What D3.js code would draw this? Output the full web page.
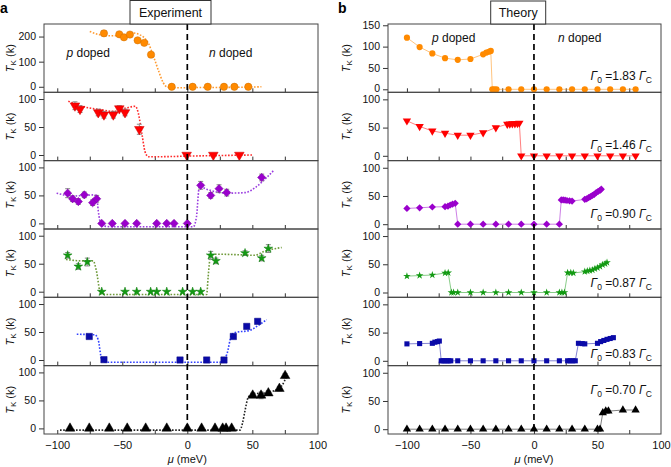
<!DOCTYPE html>
<html><head><meta charset="utf-8">
<script src="https://cdn.jsdelivr.net/npm/d3@7"></script>
<style>body{margin:0;background:#fff} svg{display:block;font-family:"Liberation Sans",Arial,Helvetica,sans-serif}</style>
</head><body><svg id="c" width="671" height="467"></svg>
<script>
// ---------------- DATA ----------------
// Experiment (panel a)
const exp1X = [-64.1,-52.3,-48.7,-44.1,-38.2,-33.1,-27.9,-12,4.1,15.7,28.2,36.2,46.9];
const exp1Y = [213,209,197,208,185,175,128,0,0,0,0,0,0];
const exp1E = [10,6,8,8,6,6,7,0,0,0,0,0,0];
const fit1X = [-75,-68,-60,-52,-45,-41,-37,-33,-30,-26,-22,-18.5,-15,-10,10,40,57];
const fit1Y = [220,208,203,204,210,214,208,195,174,121,62,16,-2,-4,-3,-2,0];

const exp2X = [-86.4,-82.5,-68.5,-64.1,-56.9,-52.3,-47.9,-36.9,-0.5,20,40];
const exp2Y = [88,82,76,72,72,83,76,46,0,0,0];
const exp2E = [7,6,6,6,6,5,6,9,0,0,0];
const fit2X = [-91.5,-82.5,-67,-57,-47,-40,-37.7,-35,-32.5,-30,-20,0,50.8];
const fit2Y = [96,88,81,78,84,87,75,39,6,-3,-3,-2,0];

const exp3X = [-92,-88.2,-83.8,-79.2,-72.8,-69.7,-65.8,-57.7,-47.9,-38.9,-23.5,-15.8,-10.2,0,10.3,18,24.4,30.3,57.2];
const exp3Y = [54,44,39,51,37,44,0,0,0,0,0,0,0,0,68,50,62,55,82];
const exp3E = [8,5,5,5,5,6,0,0,0,0,0,0,0,0,7,5,7,6,6];
const fit3X = [-100.5,-88,-78,-72,-69.7,-68.5,-65.8,-58,4.6,7,9.3,14.9,30.3,44.4,53.4,61,66.2];
const fit3Y = [54,49,50,51,49,23,-4,-6,-6,11,66,61,54,55,66,82,94];

const exp4X = [-92,-83.8,-76.9,-65.8,-47.9,-38.9,-28.2,-23.5,-15.8,-3.6,4.1,10.3,18,22,44.4,57.2,62.3];
const exp4Y = [65,45,53,0,0,0,0,0,0,0,0,0,65,55,69,60,77];
const exp4E = [5,5,7,0,0,0,0,0,0,0,0,0,7,5,4,5,7];
const fit4X = [-93.3,-80,-72.3,-70,-66.5,-60,14.9,16,18,22,40,52,58,72.6];
const fit4Y = [57.5,55,55,38,-4,-5,-5,26,65,67,66,65,71,79];

const exp5X = [-75.4,-64.1,-5.6,14.9,28.2,35.4,45.7,54.1];
const exp5Y = [42,0.6,0,0,0,42,60,69];
const exp5E = [0,0,0,0,0,0,0,0];
const fit5X = [-85,-71,-68.5,-65.8,-63,25.2,30.3,34.1,36.7,48.2,53.4,61];
const fit5Y = [46,45,36,1,-4,-4,9.5,45,49,53,60,72];

const exp6X = [-90.2,-75.4,-60,-46.2,-32,-15.8,0,11,21.3,27.2,29.8,34.1,50.3,56.7,62.3,70.8,75.2];
const exp6Y = [0,0,0,0,0,0,0,0,0,0,0,0,59,59,63,71,94];
const exp6E = [0,0,0,0,0,0,0,0,0,0,0,0,4,6,4,4,4];
const fit6X = [-97.9,40.5,42.5,44.4,46.9,50.8,58.5,67.5,72.6,76.5];
const fit6Y = [-3,-3,10,32,56,62,63,68,76,94];

// Theory (panel b)
const th1X = [-100,-90,-80,-70,-60,-50,-40,-37.5,-35.5,-34,-32.8,-31.3,-29.5,-20,-10,0,10,20,30,40,50,60,70,80];
const th1Y = [121,99,84,73,69,71,82,86,88,90,0,0,0,0,0,0,0,0,0,0,0,0,0,0];
const th2X = [-100,-90,-80,-70,-60,-50,-40,-30,-21,-19,-17,-15,-13,-11.5,-10,0,10,20,30,40,50,60,70,80];
const th2Y = [62,52,44,40,36.5,36.5,41,50,56,56.5,57,57,57.5,58,0,0,0,0,0,0,0,0,0,0];
const th3X = [-100,-90,-80,-70,-67.7,-65.9,-64.1,-62,-60,-50,-40,-30,-20,-10,0,10,20,21.5,23,24.5,26,28,30,40,41.5,43,44.5,46,47.5,49,50.5,52,53];
const th3Y = [28,29,30.5,31,32,34,35.5,37,0,0,0,0,0,0,0,0,0,43,43,42.5,42,41.5,41,44,45,47,49,51,53,56,58,60,62];
const th4X = [-100,-90,-80,-70,-67.5,-65,-63.3,-60,-50,-40,-30,-20,-10,0,10,20,22,24,26.5,29,31,40,42,44,46,48,50,52,54,56,57.5];
const th4Y = [29,30,31,34.5,35,0,0,0,0,0,0,0,0,0,0,0,0,0,35,35,34.5,37,38,39,40,42,44,46,49,51,53];
const th5X = [-100,-90,-80,-78,-76,-74.5,-73,-71.5,-70,-68.5,-67,-65.5,-60,-50,-40,-30,-20,-10,0,10,20,26.5,28.5,30.5,32.5,35,38,40,50,52.5,55,57.5,60,62.5];
const th5Y = [30,30.5,31,33,34,35,0,0,0,0,0,0,0,0,0,0,0,0,0,0,0,0,0,0,0,31,30.5,30,31,34,36,38,39.5,41];
const th6X = [-100,-90,-80,-70,-60,-50,-40,-30,-20,-10,0,10,20,30,40,50,52,54.2,56.5,58.6,70,80];
const th6Y = [0,0,0,0,0,0,0,0,0,0,0,0,0,0,0,0,0,29,32,32,34,34];

const gammaVals = ["1.83","1.46","0.90","0.87","0.83","0.70"];
const xTickVals = [-100,-75,-50,-25,0,25,50,75,100];
const xLabelVals = [-100,-50,0,50,100];
const yTicksA1 = [0,100,200];
const yTicksB1 = [0,50,100,150];
const yTicksStd = [0,50,100];

// ---------------- STYLE / LAYOUT ----------------
const colors = ["#ff8a00","#ff0000","#9a00cc","#139a13","#0a0aa8","#000000"];
const fitColors = ["#ff9a30","#ff2a2a","#9a3de0","#6f9a3a","#3040ff","#222222"];
const syms = [
  {t:d3.symbolCircle, r:0, sa:42, sb:30},
  {t:d3.symbolTriangle, r:180, sa:40, sb:30},
  {t:d3.symbolSquare, r:45, sa:34, sb:26},
  {t:d3.symbolStar, r:0, sa:24, sb:18},
  {t:d3.symbolSquare, r:0, sa:40, sb:26},
  {t:d3.symbolTriangle, r:0, sa:40, sb:30}
];
const tops = [24, 92.3, 160.7, 229, 297.3, 365.7];
const PH = 68.3;
const yDomA = [[-22,250],[-10,112],[-10,112],[-10,112],[-10,112],[-10,112]];
const yDomB = [[-7,153],[-8.5,112.5],[-8.5,112.5],[-8.5,112.5],[-8.5,112.5],[-8.5,112.5]];

const expSets = [
  [exp1X,exp1Y,exp1E,fit1X,fit1Y],[exp2X,exp2Y,exp2E,fit2X,fit2Y],[exp3X,exp3Y,exp3E,fit3X,fit3Y],
  [exp4X,exp4Y,exp4E,fit4X,fit4Y],[exp5X,exp5Y,exp5E,fit5X,fit5Y],[exp6X,exp6Y,exp6E,fit6X,fit6Y]];
const thSets = [[th1X,th1Y],[th2X,th2Y],[th3X,th3Y],[th4X,th4Y],[th5X,th5Y],[th6X,th6Y]];

const svg = d3.select("#c");
const xA = d3.scaleLinear().domain([-110.2,100.5]).range([44,318]);
const xB = d3.scaleLinear().domain([-114.9,100]).range([388,661]);

function drawAxes(x, y, i, yTicks) {
  const g = svg.append("g");
  const x0 = x.range()[0], x1 = x.range()[1];
  const yb = tops[i] + PH;
  const ay = g.append("g").attr("transform", `translate(${x0},0)`)
    .call(d3.axisLeft(y).tickValues(yTicks).tickSize(5).tickPadding(3).tickFormat(d3.format("d")));
  ay.select(".domain").remove();
  ay.selectAll("line").attr("stroke","#333");
  ay.selectAll("text").attr("font-size",10.5).attr("fill","#111").attr("font-family",null);
  if (i === 0) ay.selectAll("text").filter(d=>d===0).attr("dy","0.25em");
  const ax = g.append("g").attr("transform", `translate(0,${yb})`)
    .call(d3.axisBottom(x).tickValues(xTickVals.filter(v=>v<100)).tickSize(-4).tickFormat(""));
  ax.select(".domain").remove();
  ax.selectAll("line").attr("stroke","#333");
  if (i === 5) {
    const al = g.append("g").attr("transform", `translate(0,${yb})`)
      .call(d3.axisBottom(x).tickValues(xLabelVals).tickSize(0).tickPadding(7));
    al.select(".domain").remove();
    al.selectAll("text").attr("font-size",11).attr("fill","#111").attr("font-family",null);
  }
  g.append("rect").attr("x",x0).attr("y",tops[i]).attr("width",x1-x0).attr("height",PH)
    .attr("fill","none").attr("stroke","#444").attr("stroke-width",1);
}

function yLabel(cx, cy) {
  const t = svg.append("text").attr("transform",`translate(${cx},${cy}) rotate(-90)`)
    .attr("text-anchor","middle").attr("dy","0.35em").attr("font-size",11).attr("fill","#111");
  t.append("tspan").attr("font-style","italic").text("T");
  t.append("tspan").attr("font-size",8).attr("dy",2.5).text("K");
  t.append("tspan").attr("dy",-2.5).text(" (k)");
}

function symPath(s, size) { return d3.symbol().type(s.t).size(size)(); }

// ---------------- PANEL a ----------------
for (let i = 0; i < 6; i++) {
  const y = d3.scaleLinear().domain(yDomA[i]).range([tops[i]+PH, tops[i]]);
  drawAxes(xA, y, i, i === 0 ? yTicksA1 : yTicksStd);
  yLabel(10, tops[i] + PH/2);
  const [ex, ey, ee, fx, fy] = expSets[i];
  const fitData = fx.map((v,k)=>[v, fy[k]]);
  svg.append("path").datum(fitData)
    .attr("d", d3.line().x(d=>xA(d[0])).y(d=>y(d[1])).curve(d3.curveMonotoneX))
    .attr("fill","none").attr("stroke",fitColors[i]).attr("stroke-width",1.6)
    .attr("stroke-dasharray","1.6,1.6");
  const pts = ex.map((v,k)=>({x:v, y:ey[k], e:ee[k]}));
  const eb = svg.append("g").attr("stroke","#8a8a8a").attr("stroke-width",1);
  pts.filter(d=>d.e>0).forEach(d=>{
    const px = xA(d.x), y1 = y(d.y+d.e), y2 = y(d.y-d.e);
    eb.append("line").attr("x1",px).attr("x2",px).attr("y1",y1).attr("y2",y2);
    eb.append("line").attr("x1",px-2.5).attr("x2",px+2.5).attr("y1",y1).attr("y2",y1);
    eb.append("line").attr("x1",px-2.5).attr("x2",px+2.5).attr("y1",y2).attr("y2",y2);
  });
  const s = syms[i];
  svg.append("g").selectAll("path").data(pts).join("path")
    .attr("d", symPath(s, s.sa))
    .attr("transform", d=>`translate(${xA(d.x)},${y(d.y)}) rotate(${s.r})`)
    .attr("fill", colors[i]).attr("stroke", d3.color(colors[i]).darker(0.6)).attr("stroke-width",0.5);
}

// ---------------- PANEL b ----------------
for (let i = 0; i < 6; i++) {
  const y = d3.scaleLinear().domain(yDomB[i]).range([tops[i]+PH, tops[i]]);
  drawAxes(xB, y, i, i === 0 ? yTicksB1 : yTicksStd);
  yLabel(346, tops[i] + PH/2);
  const [tx, ty] = thSets[i];
  const pts = tx.map((v,k)=>({x:v, y:ty[k]}));
  svg.append("path").datum(pts)
    .attr("d", d3.line().x(d=>xB(d.x)).y(d=>y(d.y)))
    .attr("fill","none").attr("stroke",colors[i]).attr("stroke-opacity",0.5).attr("stroke-width",1);
  const s = syms[i];
  svg.append("g").selectAll("path").data(pts).join("path")
    .attr("d", symPath(s, s.sb))
    .attr("transform", d=>`translate(${xB(d.x)},${y(d.y)}) rotate(${s.r})`)
    .attr("fill", colors[i]);
}

// Gamma annotations
const gY = [80, 149, 217.5, 287, 357.5, 393.5];
gammaVals.forEach((g,i)=>{
  const t = svg.append("text").attr("x",652).attr("y",gY[i]).attr("text-anchor","end")
    .attr("font-size",12).attr("fill","#111");
  t.append("tspan").attr("font-style","italic").text("Γ");
  t.append("tspan").attr("font-size",8.5).attr("dy",3).text("0");
  t.append("tspan").attr("dy",-3).text(" =" + g + " ");
  t.append("tspan").attr("font-style","italic").text("Γ");
  t.append("tspan").attr("font-size",8.5).attr("dy",3).text("C");
});

// dashed zero lines
[xA, xB].forEach(x=>{
  svg.append("line").attr("x1",x(0)).attr("x2",x(0)).attr("y1",tops[0]).attr("y2",tops[5]+PH)
    .attr("stroke","#000").attr("stroke-width",1.7).attr("stroke-dasharray","6,4");
});

function doped(x, y, letter) {
  const t = svg.append("text").attr("x",x).attr("y",y).attr("font-size",12).attr("fill","#111");
  t.append("tspan").attr("font-style","italic").text(letter);
  t.append("tspan").text(" doped");
}
doped(66.5, 57, "p"); doped(209, 57, "n");
doped(432, 42, "p"); doped(558, 42, "n");

[xA, xB].forEach(x=>{
  const t = svg.append("text").attr("x",x(0)).attr("y",463).attr("text-anchor","middle")
    .attr("font-size",11).attr("fill","#111");
  t.append("tspan").attr("font-style","italic").text("μ");
  t.append("tspan").text(" (meV)");
});

function box(x0, x1, y0, label) {
  svg.append("rect").attr("x",x0).attr("y",y0).attr("width",x1-x0).attr("height",24-y0)
    .attr("fill","#fff").attr("stroke","#333").attr("stroke-width",1);
  svg.append("text").attr("x",(x0+x1)/2).attr("y",17).attr("text-anchor","middle")
    .attr("font-size",12.5).attr("fill","#111").text(label);
}
box(130, 211, 0.5, "Experiment");
box(490.7, 545.7, 1, "Theory");

svg.append("text").attr("x",0).attr("y",13).attr("font-size",14).attr("font-weight","bold").text("a");
svg.append("text").attr("x",338).attr("y",13).attr("font-size",14).attr("font-weight","bold").text("b");
</script></body></html>
